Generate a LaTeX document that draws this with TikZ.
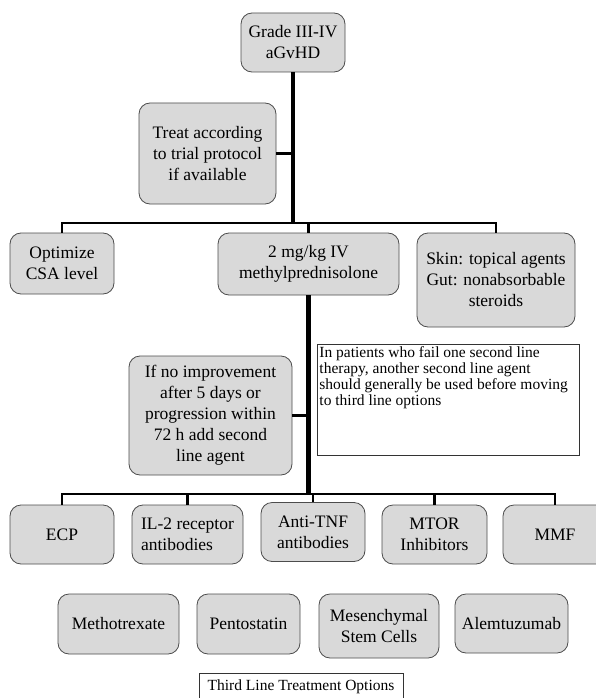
\documentclass[tikz,border=0pt]{standalone}
\usepackage{fontspec}
\setmainfont{Liberation Serif}
\definecolor{boxgray}{RGB}{217,217,217}
\begin{document}
\begin{tikzpicture}[
			x=1pt, y=-1pt,
			box/.style={draw=black!70, line width=0.8pt, fill=boxgray, rounded corners=11pt, align=center, inner sep=2pt, font=\fontsize{17.5}{21}\selectfont},
			note/.style={draw=black!80, line width=0.9pt, fill=white, inner sep=2pt, font=\fontsize{15.5}{16}\selectfont},
			trunk/.style={line width=4.2pt},
			branch/.style={line width=2.5pt}
		]
		\useasboundingbox (0,0) rectangle (596,698);
		\clip (0,0) rectangle (596,698);

		\node[box, minimum width=104pt, minimum height=59pt] (grade) at (293,42.5) {Grade III-IV\\aGvHD};
		\node[box, minimum width=137pt, minimum height=101pt] (treat) at (207.5,153.5) {Treat according\\to trial protocol\\if available};

		\node[box, minimum width=104pt, minimum height=61pt] (optim) at (62,263.5) {Optimize\\CSA level};
		\node[box, minimum width=181pt, minimum height=62pt] (methyl) at (308.5,264) {2 mg/kg IV\\methylprednisolone};
		\node[box, minimum width=158pt, minimum height=94pt] (skin) at (496,280) {Skin: topical agents\\Gut: nonabsorbable\\steroids};

		\node[box, minimum width=163pt, minimum height=119pt] (noimp) at (210.5,415.5) {If no improvement\\after 5 days or\\progression within\\72 h add second\\line agent};
		\node[note, anchor=north west] (note) at (317,344) {\parbox[t][107pt][t]{258pt}{\raggedright In patients who fail one second line\\therapy, another second line agent\\should generally be used before moving\\to third line options}};

		\node[box, minimum width=104pt, minimum height=59pt] (ecp) at (62,534.5) {ECP};
		\node[box, minimum width=111pt, minimum height=59pt, align=left] (iltwo) at (187.5,534.5) {IL-2 receptor\\antibodies};
		\node[box, minimum width=104pt, minimum height=59pt] (antitnf) at (313,532) {Anti-TNF\\antibodies};
		\node[box, minimum width=105pt, minimum height=59pt] (mtor) at (434.5,534.5) {MTOR\\Inhibitors};
		\node[box, minimum width=104pt, minimum height=59pt] (mmf) at (555,534.5) {MMF};

		\node[box, minimum width=121pt, minimum height=60pt] (mtx) at (118.5,624) {Methotrexate};
		\node[box, minimum width=103pt, minimum height=60pt] (pento) at (248.5,624) {Pentostatin};
		\node[box, minimum width=120pt, minimum height=64pt] (msc) at (379,626) {Mesenchymal\\Stem Cells};
		\node[box, minimum width=113pt, minimum height=59pt] (alem) at (511.5,623.5) {Alemtuzumab};

		\node[note, anchor=north, minimum width=204pt, minimum height=27pt] (third) at (301,673) {Third Line Treatment Options};

		\coordinate (j1) at (293,223);
		\coordinate (j2) at (308.5,494);

		\draw[trunk] (grade.south) -- (j1);
		\draw[branch] (treat.east) -- (treat.east -| j1);
		\draw[branch] (optim.north) |- (j1) -| (skin.north);
		\draw[branch] (methyl.north) -- (methyl.north |- j1);

		\draw[trunk] (methyl.south) -- (j2);
		\draw[branch] (noimp.east) -- (noimp.east -| j2);
		\draw[branch] (ecp.north) |- (j2) -| (mmf.north);
		\foreach \n in {iltwo,antitnf,mtor}
			\draw[branch] (\n.north) -- (\n.north |- j2);
	\end{tikzpicture}
\end{document}
